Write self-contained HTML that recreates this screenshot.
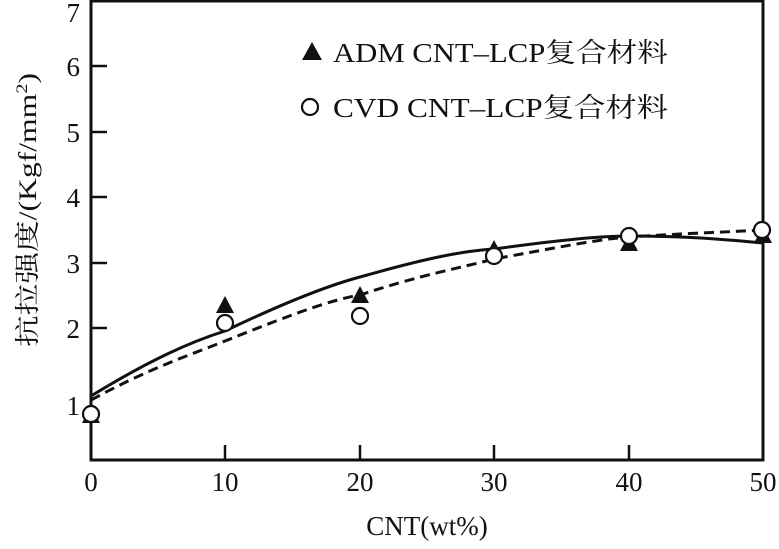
<!DOCTYPE html>
<html><head><meta charset="utf-8"><style>
body{margin:0;background:#fff;width:779px;height:544px;overflow:hidden}
text{font-family:"Liberation Serif","Noto Serif CJK SC",serif;fill:#111}
</style></head><body>
<svg width="779" height="544" viewBox="0 0 779 544">
<rect x="91" y="1" width="672" height="459" fill="none" stroke="#111" stroke-width="3"/>
<g stroke="#111" stroke-width="2.5">
<line x1="91" y1="66" x2="107" y2="66"/><line x1="91" y1="132" x2="107" y2="132"/>
<line x1="91" y1="197" x2="107" y2="197"/><line x1="91" y1="263" x2="107" y2="263"/>
<line x1="91" y1="328" x2="107" y2="328"/>
<line x1="225" y1="460" x2="225" y2="445"/><line x1="360" y1="460" x2="360" y2="445"/>
<line x1="494" y1="460" x2="494" y2="445"/><line x1="629" y1="460" x2="629" y2="445"/>
</g>
<g font-size="27" text-anchor="end">
<text x="80" y="22">7</text><text x="80" y="76">6</text><text x="80" y="142">5</text>
<text x="80" y="207">4</text><text x="80" y="273">3</text><text x="80" y="338">2</text>
<text x="80" y="415">1</text>
</g>
<g font-size="27" text-anchor="middle">
<text x="91" y="491">0</text><text x="225" y="491">10</text><text x="360" y="491">20</text>
<text x="494" y="491">30</text><text x="629" y="491">40</text><text x="763" y="491">50</text>
<text x="427" y="535">CNT(wt%)</text>
</g>
<text font-size="25" x="-347" y="36" textLength="274" lengthAdjust="spacingAndGlyphs" transform="rotate(-90)">抗拉强度/(Kgf/mm<tspan font-size="16" dy="-9">2</tspan><tspan dy="9">)</tspan></text>
<path d="M91,396 C150,360 190,342 225,331 C290,300 330,285 360,277 C420,260 460,251 494,249 C560,240 600,236 629,236 C690,236 730,240 763,243" fill="none" stroke="#111" stroke-width="3"/>
<path d="M91,400 C150,368 190,355 225,341 C290,315 330,300 360,295 C420,275 460,268 494,259 C560,247 600,239 629,237 C690,233 730,232 763,230" fill="none" stroke="#111" stroke-width="3" stroke-dasharray="10,6"/>
<g fill="#111">
<polygon points="91,406 82,423 100,423"/><polygon points="225,296 216,313 234,313"/>
<polygon points="360,286 351,303 369,303"/><polygon points="494,240 485,257 503,257"/>
<polygon points="629,234 620,251 638,251"/><polygon points="763,226 754,243 772,243"/>
<polygon points="312,42 302,60 322,60"/>
</g>
<g fill="#fff" stroke="#111" stroke-width="2.2">
<circle cx="91" cy="414" r="8"/><circle cx="225" cy="323" r="8"/><circle cx="360" cy="316" r="8"/>
<circle cx="494" cy="256" r="8"/><circle cx="629" cy="236" r="8"/><circle cx="762" cy="230" r="8"/>
<circle cx="310" cy="107" r="8"/>
</g>
<text x="333" y="62" font-size="27" textLength="335" lengthAdjust="spacingAndGlyphs">ADM CNT–LCP复合材料</text>
<text x="333" y="117" font-size="27" textLength="335" lengthAdjust="spacingAndGlyphs">CVD CNT–LCP复合材料</text>
</svg>
</body></html>
